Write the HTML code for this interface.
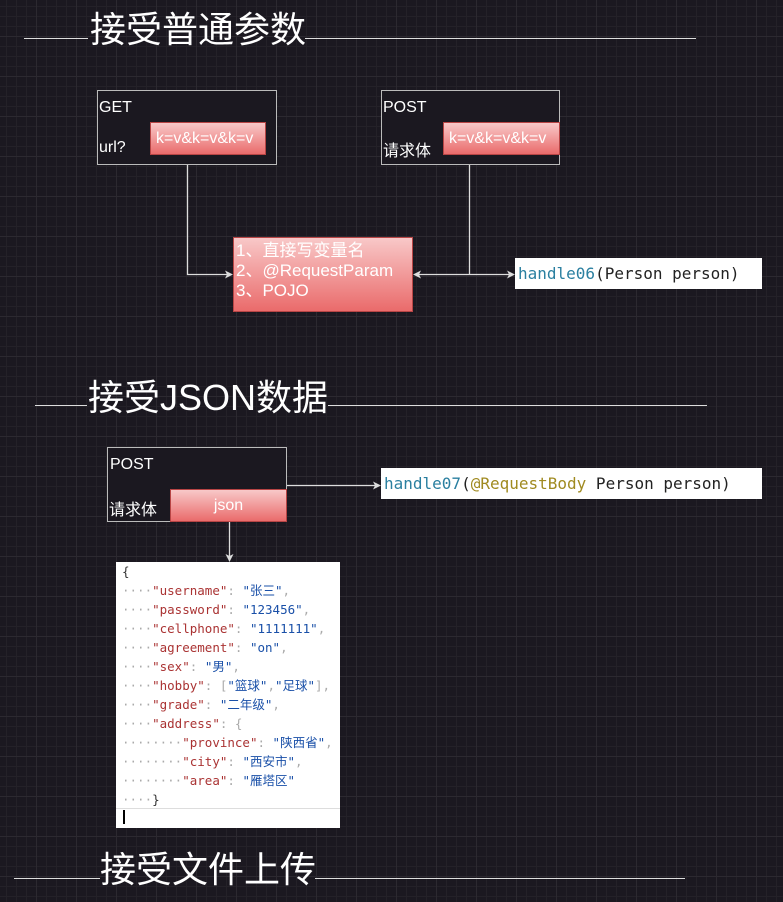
<!DOCTYPE html>
<html><head><meta charset="utf-8"><style>
body{margin:0;width:783px;height:902px;overflow:hidden;background:#1b1820;
background-image:linear-gradient(#2c2930 1px,transparent 1px),linear-gradient(90deg,#2c2930 1px,transparent 1px),linear-gradient(#242128 1px,transparent 1px),linear-gradient(90deg,#242128 1px,transparent 1px);
background-size:40px 40px,40px 40px,10px 10px,10px 10px;background-position:-4px -4px;
font-family:"Liberation Sans","Noto Sans CJK SC",sans-serif;position:relative}
.a{position:absolute}
.t{color:#fff;font-size:36px;line-height:40px;background:transparent}
.hl{height:1px;background:#ddd}
.box{border:1px solid #bbb;background:#1b1820;color:#fff;font-size:16px;box-sizing:border-box}
.pk{background:linear-gradient(#f8c8c8,#ea6b6b);border:1px solid #b84545;color:#fff;box-sizing:border-box;font-size:16px}
.code{background:#fff;font-family:"DejaVu Sans Mono","Liberation Mono",monospace;font-size:16px;color:#222;box-sizing:border-box;padding:6px 3px 0;white-space:pre}
.j{font-family:"DejaVu Sans Mono","Noto Sans CJK SC",monospace;font-size:12.5px;line-height:19px;white-space:pre;color:#aaa}
.k{color:#a33}.s{color:#1a50a8}
</style></head><body>
<div class="a hl" style="left:24px;top:38px;width:64px"></div>
<div class="a hl" style="left:305px;top:38px;width:391px"></div>
<div class="a t" style="left:90px;top:10px">接受普通参数</div>

<div class="a box" style="left:97px;top:90px;width:180px;height:75px"><div class="a" style="left:1px;top:8px">GET</div><div class="a" style="left:1px;top:48px">url?</div></div>
<div class="a pk" style="left:150px;top:122px;width:116px;height:33px;line-height:31px;padding-left:5px">k=v&amp;k=v&amp;k=v</div>
<div class="a box" style="left:381px;top:90px;width:179px;height:75px"><div class="a" style="left:1px;top:8px">POST</div><div class="a" style="left:1px;top:46px">请求体</div></div>
<div class="a pk" style="left:443px;top:122px;width:117px;height:33px;line-height:31px;padding-left:5px">k=v&amp;k=v&amp;k=v</div>
<div class="a pk" style="left:233px;top:237px;width:180px;height:75px;padding:0 2px;line-height:20px;padding-top:3px;font-size:17px">1、直接写变量名<br>2、@RequestParam<br>3、POJO</div>
<div class="a code" style="left:515px;top:258px;width:247px;height:31px"><span style="color:#2a7fa0">handle06</span>(Person person)</div>

<svg class="a" style="left:0;top:0" width="783" height="902">
<g stroke="#ddd" stroke-width="1.3" fill="none">
<path d="M187.5 165V274.5H228"/>
<path d="M469.5 165V274.5"/>
<path d="M418 274.5H510"/>
<path d="M286 485.5H376"/>
<path d="M229.5 521V557"/>
</g>
<g fill="#ddd">
<path d="M233 274.5l-8-4 2 4-2 4z"/>
<path d="M413 274.5l8-4-2 4 2 4z"/>
<path d="M515 274.5l-8-4 2 4-2 4z"/>
<path d="M381 485.5l-8-4 2 4-2 4z"/>
<path d="M229.5 562l-4-8 4 2 4-2z"/>
</g>
</svg>

<div class="a hl" style="left:35px;top:405px;width:52px"></div>
<div class="a hl" style="left:328px;top:405px;width:379px"></div>
<div class="a t" style="left:88px;top:378px">接受JSON数据</div>

<div class="a box" style="left:107px;top:447px;width:180px;height:75px"><div class="a" style="left:2px;top:8px">POST</div><div class="a" style="left:1px;top:48px">请求体</div></div>
<div class="a pk" style="left:170px;top:489px;width:117px;height:33px;line-height:31px;text-align:center">json</div>
<div class="a code" style="left:381px;top:468px;width:381px;height:31px"><span style="color:#2a7fa0">handle07</span>(<span style="color:#a08a20">@RequestBody</span> Person person)</div>

<div class="a" style="left:116px;top:562px;width:224px;height:266px;background:#fff;overflow:hidden">
<div class="j" style="position:absolute;left:6px;top:0px"><span style="color:#333">{</span>
····<span class="k">"username"</span>: <span class="s">"张三"</span>,
····<span class="k">"password"</span>: <span class="s">"123456"</span>,
····<span class="k">"cellphone"</span>: <span class="s">"1111111"</span>,
····<span class="k">"agreement"</span>: <span class="s">"on"</span>,
····<span class="k">"sex"</span>: <span class="s">"男"</span>,
····<span class="k">"hobby"</span>: [<span class="s">"篮球"</span>,<span class="s">"足球"</span>],
····<span class="k">"grade"</span>: <span class="s">"二年级"</span>,
····<span class="k">"address"</span>: {
········<span class="k">"province"</span>: <span class="s">"陕西省"</span>,
········<span class="k">"city"</span>: <span class="s">"西安市"</span>,
········<span class="k">"area"</span>: <span class="s">"雁塔区"</span>
····<span style="color:#333">}</span></div>
<div class="a" style="left:0;top:246px;width:224px;height:20px;border-top:1px solid #ddd"></div>
<div class="a" style="left:7px;top:248px;width:2px;height:14px;background:#000"></div>
</div>

<div class="a hl" style="left:14px;top:878px;width:86px"></div>
<div class="a hl" style="left:315px;top:878px;width:370px"></div>
<div class="a t" style="left:100px;top:850px">接受文件上传</div>
</body></html>
